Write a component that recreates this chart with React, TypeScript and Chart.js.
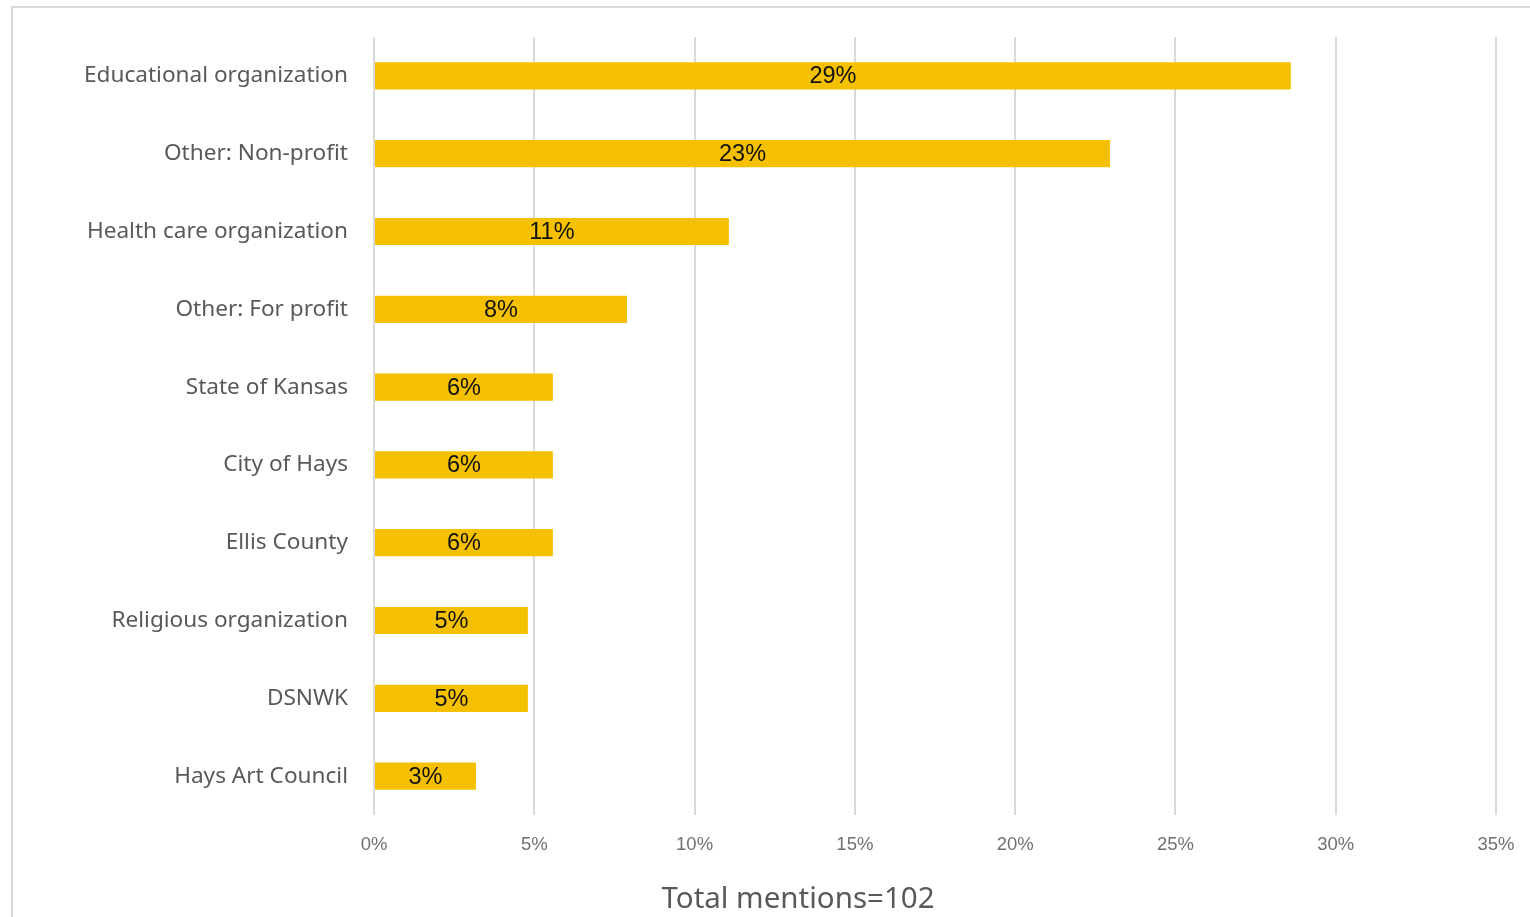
import React, { useEffect, useRef } from "react";
import { Chart, registerables } from "chart.js";

Chart.register(...registerables);

const categories = [
  "Educational organization",
  "Other: Non-profit",
  "Health care organization",
  "Other: For profit",
  "State of Kansas",
  "City of Hays",
  "Ellis County",
  "Religious organization",
  "DSNWK",
  "Hays Art Council",
];

const shares = [28.6, 22.96, 11.07, 7.89, 5.58, 5.58, 5.58, 4.8, 4.8, 3.18];

const xTicks = [0, 5, 10, 15, 20, 25, 30, 35];

const axisTitle = "Total mentions=102";

const barLabelsPlugin = {
  id: "barLabels",
  afterDatasetsDraw(chart: any) {
    const ctx = chart.ctx;
    const meta = chart.getDatasetMeta(0);
    ctx.save();
    ctx.font = '23.5px "Liberation Sans", Arial, sans-serif';
    ctx.fillStyle = "#111111";
    ctx.textAlign = "center";
    ctx.textBaseline = "middle";
    meta.data.forEach((bar: any, i: number) => {
      const v = chart.data.datasets[0].data[i] as number;
      const cx = (bar.x + bar.base) / 2;
      ctx.fillText(Math.round(v) + "%", cx, bar.y + 1);
    });
    ctx.restore();
  },
};

export default function App() {
  const ref = useRef<HTMLCanvasElement | null>(null);

  useEffect(() => {
    document.body.style.margin = "0";
    const canvas = ref.current!;
    const chart = new Chart(canvas, {
      type: "bar",
      data: {
        labels: categories,
        datasets: [
          {
            data: shares,
            backgroundColor: "#F5C000",
            borderWidth: 0,
            categoryPercentage: 1,
            barPercentage: 0.35,
          },
        ],
      },
      options: {
        indexAxis: "y",
        animation: false,
        responsive: false,
        maintainAspectRatio: false,
        layout: { padding: { left: 0, right: 34, top: 37, bottom: 0 } },
        plugins: {
          legend: { display: false },
          tooltip: { enabled: false },
        },
        scales: {
          x: {
            min: 0,
            max: 35,
            afterBuildTicks: (s: any) => {
              s.ticks = xTicks.map((v) => ({ value: v }));
            },
            afterFit: (s: any) => {
              s.height = 102;
              s.paddingLeft = 0;
              s.paddingRight = 0;
            },
            border: { display: false },
            grid: { color: "#D9D9D9", lineWidth: 2, drawTicks: false },
            ticks: {
              padding: 19,
              color: "#707070",
              font: { family: '"Liberation Sans", Arial, sans-serif', size: 18.5 },
              callback: (v: any) => v + "%",
            },
          },
          y: {
            afterFit: (s: any) => {
              s.width = 374;
              s.paddingTop = 0;
              s.paddingBottom = 0;
            },
            border: { display: false },
            grid: { display: false, drawTicks: false },
            ticks: {
              padding: 26,
              color: "#595959",
              font: { family: '"Noto Sans", sans-serif', size: 22.6 },
            },
          },
        },
      },
      plugins: [barLabelsPlugin],
    });
    return () => chart.destroy();
  }, []);

  return (
    <div>
      <div
        style={{
          position: "fixed",
          left: 11,
          top: 6,
          width: 1519,
          height: 911,
          borderTop: "2px solid #D9D9D9",
          borderLeft: "2px solid #D9D9D9",
          boxSizing: "border-box",
        }}
      />
      <canvas
        ref={ref}
        width={1530}
        height={917}
        style={{ position: "fixed", left: 0, top: 0, width: 1530, height: 917 }}
      />
      <div
        style={{
          position: "fixed",
          left: 498,
          width: 600,
          top: 877,
          textAlign: "center",
          fontFamily: '"Noto Sans", sans-serif',
          fontSize: 29.5,
          lineHeight: "40px",
          color: "#595959",
          whiteSpace: "nowrap",
        }}
      >
        {axisTitle}
      </div>
    </div>
  );
}
